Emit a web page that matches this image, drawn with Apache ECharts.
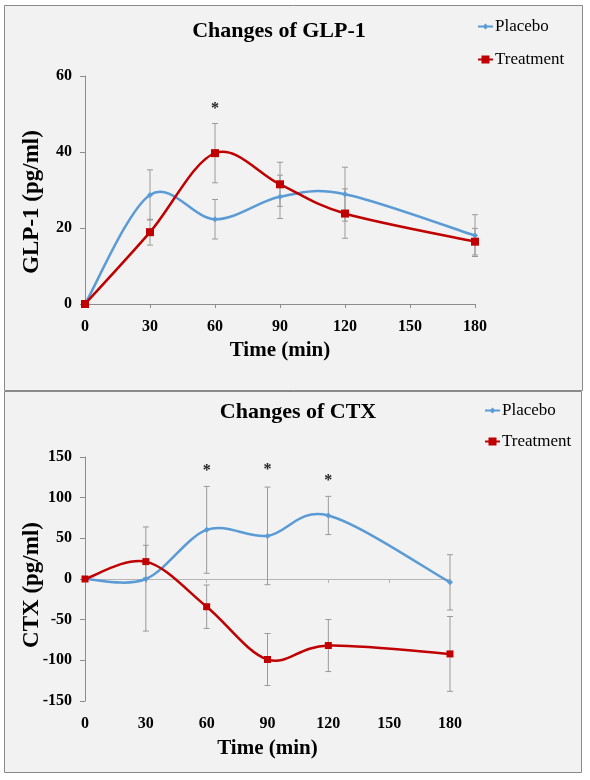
<!DOCTYPE html>
<html>
<head>
<meta charset="utf-8">
<script src="https://cdn.jsdelivr.net/npm/echarts@6.0.0/dist/echarts.min.js"></script>
<style>
  html, body { margin: 0; padding: 0; background: #ffffff; }
  #chart { width: 590px; height: 780px; }
</style>
</head>
<body>
<div id="chart"></div>
<script>
// ---- Data ----
const times = [0, 30, 60, 90, 120, 180];
const xTicks = [0, 30, 60, 90, 120, 150, 180];

const glpPlacebo      = [0, 28.7, 22.3, 28.2, 28.9, 18.0];
const glpPlaceboErr   = [0, 6.6, 5.2, 5.7, 7.1, 5.5];
const glpTreatment    = [0, 18.9, 39.7, 31.5, 23.8, 16.4];
const glpTreatmentErr = [0, 3.4, 7.8, 5.8, 6.5, 3.5];
const glpStarTimes    = [60];
const glpStarLevels   = [52.4];

const ctxPlacebo      = [0, 0, 60.4, 53.0, 78.1, -4.1];
const ctxPlaceboErr   = [0, 64, 53.4, 60, 23.5, 34];
const ctxTreatment    = [0, 21.4, -34.1, -99.0, -81.8, -92.1];
const ctxTreatmentErr = [0, 20, 26.7, 32, 32, 46];
const ctxStarTimes    = [60, 90, 120];
const ctxStarLevels   = [137.7, 138.5, 125.4];

const glpYTicks = [0, 20, 40, 60];
const ctxYTicks = [-150, -100, -50, 0, 50, 100, 150];

// ---- Styles ----
const FONT = '"Liberation Serif", "Times New Roman", serif';
const BLUE = '#5b9bd5';
const RED = '#c00000';
const AXIS = '#8c8c8c';
const ERR = '#9a9a9a';
const ICON_P = 'path://M0,2 L15,2 L15,4 L0,4 Z M7.5,0 L10.5,3 L7.5,6 L4.5,3 Z';
const ICON_T = 'path://M0,3 L15,3 L15,5 L0,5 Z M3.5,0 L11.5,0 L11.5,8 L3.5,8 Z';

const pairs = (xs, ys) => xs.map((x, i) => [x, ys[i]]);
const triples = (xs, ys, es) => xs.map((x, i) => [x, ys[i], es[i]]);

function errRender(params, api) {
  const x = api.value(0), y = api.value(1), e = api.value(2);
  if (!e) return null;
  const top = api.coord([x, y + e]);
  const bot = api.coord([x, y - e]);
  const w = 3;
  const st = { stroke: ERR, lineWidth: 1 };
  return {
    type: 'group',
    children: [
      { type: 'line', shape: { x1: top[0], y1: top[1], x2: bot[0], y2: bot[1] }, style: st },
      { type: 'line', shape: { x1: top[0] - w, y1: top[1], x2: top[0] + w, y2: top[1] }, style: st },
      { type: 'line', shape: { x1: bot[0] - w, y1: bot[1], x2: bot[0] + w, y2: bot[1] }, style: st }
    ]
  };
}

// Excel-like smoothed line (Catmull-Rom style Bezier segments)
function curveRender(xs, ys, color) {
  return function (params, api) {
    const i = params.dataIndex;
    if (i >= xs.length - 1) return null;
    const P = xs.map((x, j) => api.coord([x, ys[j]]));
    const p0 = P[Math.max(i - 1, 0)], p1 = P[i], p2 = P[i + 1], p3 = P[Math.min(i + 2, P.length - 1)];
    const k = 1 / 6;
    return {
      type: 'bezierCurve',
      shape: {
        x1: p1[0], y1: p1[1], x2: p2[0], y2: p2[1],
        cpx1: p1[0] + (p2[0] - p0[0]) * k, cpy1: p1[1] + (p2[1] - p0[1]) * k,
        cpx2: p2[0] - (p3[0] - p1[0]) * k, cpy2: p2[1] - (p3[1] - p1[1]) * k
      },
      style: { stroke: color, lineWidth: 2.5, fill: null, lineCap: 'round' }
    };
  };
}

function starRender(params, api) {
  const p = api.coord([api.value(0), api.value(1)]);
  return {
    type: 'text',
    x: p[0], y: p[1] + 4,
    style: { text: '*', fill: '#222', font: 'bold 16px ' + FONT, align: 'center', verticalAlign: 'middle' }
  };
}

const tickLabel = { color: '#000', fontFamily: FONT, fontWeight: 'bold', fontSize: 16 };
const nameStyle = { color: '#000', fontFamily: FONT, fontWeight: 'bold' };

function yAxisDef(gridIndex, ticks, name, pad) {
  return {
    gridIndex: gridIndex, type: 'value',
    min: ticks[0], max: ticks[ticks.length - 1], interval: ticks[1] - ticks[0],
    splitLine: { show: false },
    axisLine: { show: true, lineStyle: { color: AXIS, width: 1 } },
    axisTick: { show: true, length: 5, lineStyle: { color: AXIS } },
    axisLabel: Object.assign({ margin: 13 }, tickLabel),
    name: name, nameLocation: 'middle', nameRotate: 90, nameGap: 41, nameMoveOverlap: false,
    nameTextStyle: Object.assign({ fontSize: 23, padding: pad }, nameStyle)
  };
}

function markerSeries(name, xIdx, yIdx, xs, ys, sym, size, color, z) {
  return { type: 'line', name: name, xAxisIndex: xIdx, yAxisIndex: yIdx, z: z,
    data: pairs(xs, ys), symbol: sym, symbolSize: size, showAllSymbol: true,
    lineStyle: { width: 0, opacity: 0 }, itemStyle: { color: color } };
}

function curveSeries(xIdx, yIdx, xs, ys, color, z) {
  return { type: 'custom', xAxisIndex: xIdx, yAxisIndex: yIdx, z: z, silent: true,
    renderItem: curveRender(xs, ys, color), data: pairs(xs, ys) };
}

const legendData = [{ name: 'Placebo', icon: ICON_P }, { name: 'Treatment', icon: ICON_T }];

const option = {
  backgroundColor: '#ffffff',
  animation: false,
  graphic: [
    { type: 'rect', z: -10, shape: { x: 4.5, y: 5.5, width: 578, height: 385 },
      style: { fill: '#f2f2f2', stroke: '#8a8a8a', lineWidth: 1 } },
    { type: 'rect', z: -10, shape: { x: 4.5, y: 391.5, width: 577, height: 381 },
      style: { fill: '#f2f2f2', stroke: '#8a8a8a', lineWidth: 1 } }
  ],
  title: [
    { text: 'Changes of GLP-1', left: 279, top: 20, textAlign: 'center', padding: 0,
      textStyle: { fontFamily: FONT, fontWeight: 'bold', fontSize: 22, color: '#000' } },
    { text: 'Changes of CTX', left: 298, top: 401, textAlign: 'center', padding: 0,
      textStyle: { fontFamily: FONT, fontWeight: 'bold', fontSize: 22, color: '#000' } }
  ],
  legend: [
    { data: legendData, orient: 'vertical', left: 478, top: 18,
      itemWidth: 15, itemHeight: 8, itemGap: 16, padding: 0, itemStyle: { borderWidth: 0 },
      textStyle: { fontFamily: FONT, fontSize: 17, color: '#000', padding: [0, 0, 0, -3] } },
    { data: legendData, orient: 'vertical', left: 485, top: 402,
      itemWidth: 15, itemHeight: 8, itemGap: 14, padding: 0, itemStyle: { borderWidth: 0 },
      textStyle: { fontFamily: FONT, fontSize: 17, color: '#000', padding: [0, 0, 0, -3] } }
  ],
  grid: [
    { left: 85, top: 76, width: 390, height: 228, containLabel: false },
    { left: 85, top: 457, width: 365, height: 244, containLabel: false }
  ],
  xAxis: [
    { gridIndex: 0, type: 'value', min: xTicks[0], max: xTicks[xTicks.length - 1], interval: xTicks[1] - xTicks[0],
      splitLine: { show: false },
      axisLine: { show: true, onZero: false, lineStyle: { color: AXIS, width: 1 } },
      axisTick: { show: true, length: 4, lineStyle: { color: AXIS } },
      axisLabel: Object.assign({ margin: 15 }, tickLabel),
      name: 'Time (min)', nameLocation: 'middle', nameGap: 36,
      nameTextStyle: Object.assign({ fontSize: 21 }, nameStyle) },
    { gridIndex: 1, type: 'value', position: 'bottom', min: xTicks[0], max: xTicks[xTicks.length - 1], interval: xTicks[1] - xTicks[0],
      splitLine: { show: false },
      axisLine: { show: false, onZero: false },
      axisTick: { show: false },
      axisLabel: Object.assign({ margin: 15 }, tickLabel),
      name: 'Time (min)', nameLocation: 'middle', nameGap: 37,
      nameTextStyle: Object.assign({ fontSize: 21 }, nameStyle) },
    { gridIndex: 1, type: 'value', position: 'bottom', min: xTicks[0], max: xTicks[xTicks.length - 1], interval: xTicks[1] - xTicks[0],
      splitLine: { show: false },
      axisLine: { show: true, onZero: true, lineStyle: { color: '#b5b5b5', width: 1 } },
      axisTick: { show: true, length: 4, lineStyle: { color: '#b5b5b5' } },
      axisLabel: { show: false } }
  ],
  yAxis: [
    yAxisDef(0, glpYTicks, 'GLP-1 (pg/ml)', [0, 24, 0, 0]),
    yAxisDef(1, ctxYTicks, 'CTX (pg/ml)', [0, 12, 0, 0])
  ],
  series: [
    // GLP-1 panel
    { type: 'custom', xAxisIndex: 0, yAxisIndex: 0, z: 1, silent: true,
      renderItem: errRender, data: triples(times, glpPlacebo, glpPlaceboErr) },
    { type: 'custom', xAxisIndex: 0, yAxisIndex: 0, z: 1, silent: true,
      renderItem: errRender, data: triples(times, glpTreatment, glpTreatmentErr) },
    curveSeries(0, 0, times, glpPlacebo, BLUE, 2),
    markerSeries('Placebo', 0, 0, times, glpPlacebo, 'diamond', 6, BLUE, 3),
    curveSeries(0, 0, times, glpTreatment, RED, 4),
    markerSeries('Treatment', 0, 0, times, glpTreatment, 'rect', 8, RED, 5),
    { type: 'custom', xAxisIndex: 0, yAxisIndex: 0, z: 6, silent: true,
      renderItem: starRender, data: pairs(glpStarTimes, glpStarLevels) },
    // CTX panel
    { type: 'custom', xAxisIndex: 2, yAxisIndex: 1, z: 1, silent: true,
      renderItem: errRender, data: triples(times, ctxPlacebo, ctxPlaceboErr) },
    { type: 'custom', xAxisIndex: 2, yAxisIndex: 1, z: 1, silent: true,
      renderItem: errRender, data: triples(times, ctxTreatment, ctxTreatmentErr) },
    curveSeries(2, 1, times, ctxPlacebo, BLUE, 2),
    markerSeries('Placebo', 2, 1, times, ctxPlacebo, 'diamond', 6, BLUE, 3),
    curveSeries(2, 1, times, ctxTreatment, RED, 4),
    markerSeries('Treatment', 2, 1, times, ctxTreatment, 'rect', 7, RED, 5),
    { type: 'custom', xAxisIndex: 2, yAxisIndex: 1, z: 6, silent: true,
      renderItem: starRender, data: pairs(ctxStarTimes, ctxStarLevels) }
  ]
};

const chart = echarts.init(document.getElementById('chart'), null, { renderer: 'canvas' });
chart.setOption(option);
</script>
</body>
</html>
